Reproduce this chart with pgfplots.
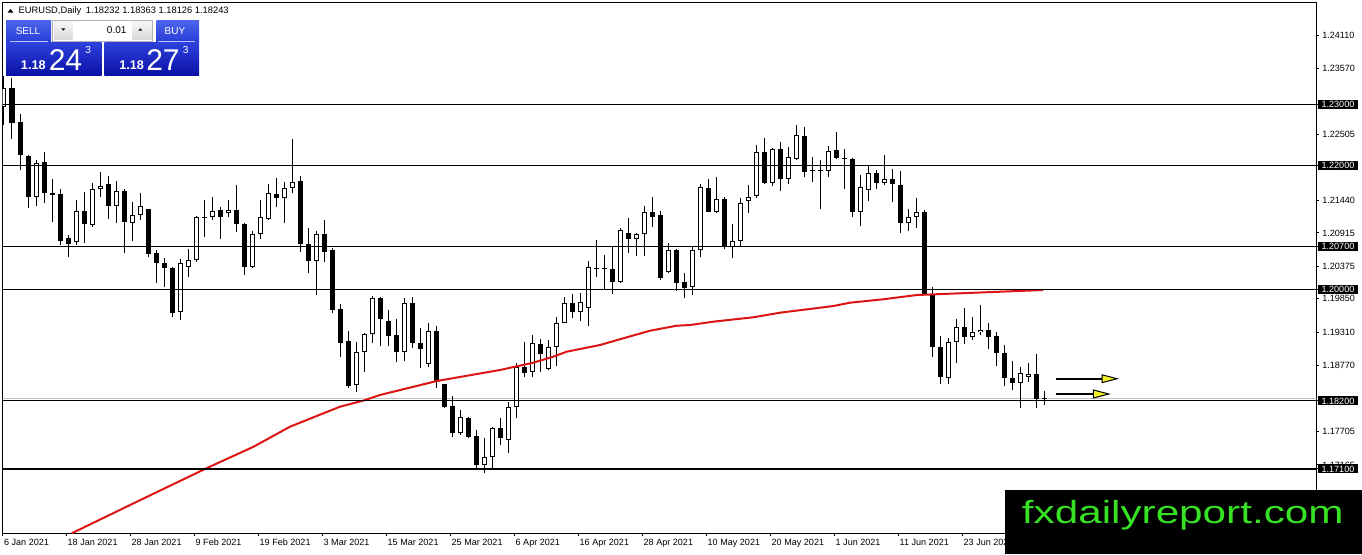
\documentclass[border=0pt]{standalone}
\usepackage{fontspec}
\setmainfont{Liberation Sans}
\usepackage{pgfplots}
\pgfplotsset{compat=1.18}
\usepackage{pgfplotstable}
\usetikzlibrary{arrows.meta}

\definecolor{mared}{RGB}{220,20,20}
\definecolor{arrowyellow}{RGB}{240,240,40}
\definecolor{wmgreen}{RGB}{55,225,35}
\definecolor{bidgray}{RGB}{192,192,192}
\definecolor{selltop}{RGB}{75,100,235}
\definecolor{sellbot}{RGB}{40,60,215}
\definecolor{bigtop}{RGB}{45,65,220}
\definecolor{bigbot}{RGB}{10,15,165}

% bullish candles: index, open, high, low, close
\pgfplotstableread{
i O H L C
0 1.22956 1.23453 1.22661 1.23254
4 1.21501 1.22095 1.21356 1.22051
9 1.20764 1.21448 1.20721 1.21270
11 1.21044 1.21728 1.21016 1.21626
12 1.21621 1.21896 1.21501 1.21674
14 1.21356 1.21755 1.21071 1.21589
16 1.21081 1.21411 1.20790 1.21201
17 1.21201 1.21566 1.21125 1.21351
22 1.19633 1.20489 1.19508 1.20434
23 1.20370 1.20661 1.20198 1.20478
24 1.20478 1.21189 1.20451 1.21178
26 1.21168 1.21501 1.21125 1.21275
28 1.21233 1.21448 1.21168 1.21282
31 1.20370 1.20952 1.20344 1.20894
32 1.20894 1.21448 1.20813 1.21168
33 1.21136 1.21702 1.21125 1.21556
35 1.21476 1.21744 1.21081 1.21637
36 1.21637 1.22434 1.21556 1.21744
39 1.20467 1.20947 1.19912 1.20894
44 1.18453 1.19148 1.18349 1.18991
45 1.18986 1.19303 1.18672 1.19282
46 1.19277 1.19901 1.19141 1.19864
50 1.18996 1.19859 1.18845 1.19778
53 1.18792 1.19455 1.18743 1.19325
57 1.17677 1.18053 1.17649 1.17935
60 1.17164 1.17605 1.17030 1.17289
61 1.17289 1.17783 1.17111 1.17757
63 1.17568 1.18187 1.17363 1.18107
64 1.18107 1.18808 1.17919 1.18753
66 1.18663 1.19266 1.18592 1.19132
68 1.18711 1.19185 1.18700 1.19077
69 1.19077 1.19562 1.18765 1.19465
70 1.19465 1.19885 1.19455 1.19788
72 1.19642 1.19940 1.19497 1.19804
73 1.19707 1.20467 1.19416 1.20360
77 1.20127 1.20991 1.20111 1.20963
79 1.20822 1.20910 1.20548 1.20894
80 1.20894 1.21351 1.20548 1.21249
83 1.20289 1.20748 1.20263 1.20640
86 1.20037 1.20704 1.19912 1.20640
87 1.20635 1.21707 1.20522 1.21658
89 1.21259 1.21815 1.21233 1.21459
91 1.20693 1.21060 1.20506 1.20790
92 1.20790 1.21476 1.20693 1.21395
93 1.21437 1.21691 1.21243 1.21501
94 1.21513 1.22337 1.21476 1.22219
96 1.21728 1.22284 1.21674 1.22268
98 1.21788 1.22300 1.21707 1.22138
99 1.22111 1.22661 1.22095 1.22494
103 1.21922 1.22321 1.21825 1.22245
107 1.21259 1.21852 1.21033 1.21653
108 1.21610 1.22003 1.21437 1.21880
110 1.21718 1.22176 1.21691 1.21783
113 1.21071 1.21298 1.20947 1.21178
114 1.21178 1.21476 1.21000 1.21249
118 1.18566 1.19212 1.18469 1.19157
119 1.19157 1.19524 1.18808 1.19390
121 1.19238 1.19552 1.19185 1.19309
122 1.19309 1.19751 1.19266 1.19350
127 1.18495 1.18743 1.18081 1.18647
128 1.18585 1.18808 1.18511 1.18630
}\bull

% bearish candles: index, open, high, low, close
\pgfplotstableread{
i O H L C
1 1.23254 1.23425 1.22434 1.22698
2 1.22709 1.22838 1.21933 1.22171
3 1.22159 1.22170 1.21314 1.21501
5 1.22058 1.22224 1.21395 1.21556
6 1.21566 1.21788 1.21097 1.21524
7 1.21545 1.21631 1.20721 1.20790
8 1.20839 1.20882 1.20531 1.20742
10 1.21270 1.21582 1.20758 1.21055
13 1.21707 1.21836 1.21141 1.21356
15 1.21594 1.21631 1.20586 1.21097
18 1.21303 1.21310 1.20531 1.20575
19 1.20586 1.20640 1.20111 1.20425
20 1.20434 1.20506 1.20037 1.20344
21 1.20354 1.20370 1.19562 1.19626
25 1.21178 1.21448 1.20855 1.21162
27 1.21286 1.21340 1.20813 1.21178
29 1.21282 1.21691 1.20936 1.21055
30 1.21060 1.21081 1.20236 1.20370
34 1.21545 1.21799 1.21340 1.21476
37 1.21755 1.21836 1.20612 1.20732
38 1.20732 1.20991 1.20263 1.20467
40 1.20894 1.21125 1.20451 1.20612
41 1.20640 1.20672 1.19621 1.19670
42 1.19686 1.19767 1.18915 1.19132
43 1.19169 1.19330 1.18414 1.18441
47 1.19864 1.19885 1.19093 1.19519
48 1.19492 1.19670 1.19093 1.19254
49 1.19266 1.19524 1.18824 1.18996
51 1.19778 1.19885 1.19051 1.19132
52 1.19141 1.19374 1.18727 1.19034
54 1.19325 1.19411 1.18414 1.18511
55 1.18473 1.18480 1.18090 1.18107
56 1.18118 1.18280 1.17612 1.17677
58 1.17929 1.17935 1.17596 1.17622
59 1.17633 1.17730 1.17095 1.17164
62 1.17757 1.17919 1.17487 1.17605
65 1.18743 1.19157 1.18592 1.18656
67 1.19115 1.19196 1.18663 1.18954
71 1.19788 1.19929 1.19536 1.19642
74 1.20354 1.20801 1.20208 1.20338
75 1.20344 1.20559 1.19993 1.20328
76 1.20328 1.20693 1.19924 1.20127
78 1.20910 1.21152 1.20596 1.20822
81 1.21259 1.21492 1.21016 1.21178
82 1.21206 1.21270 1.20155 1.20182
84 1.20640 1.20650 1.19982 1.20111
85 1.20118 1.20263 1.19859 1.20030
88 1.21637 1.21788 1.21250 1.21259
90 1.21459 1.21492 1.20651 1.20693
95 1.22219 1.22446 1.21707 1.21728
97 1.22268 1.22391 1.21598 1.21788
100 1.22483 1.22623 1.21815 1.21906
101 1.21928 1.22138 1.21744 1.21912
102 1.21928 1.22095 1.21303 1.21912
104 1.22256 1.22542 1.22106 1.22122
105 1.22122 1.22268 1.21626 1.22106
106 1.22106 1.22132 1.21178 1.21259
109 1.21885 1.21933 1.21631 1.21718
111 1.21783 1.21944 1.21421 1.21702
112 1.21691 1.21922 1.20919 1.21071
115 1.21249 1.21286 1.19920 1.19929
116 1.19929 1.20047 1.18915 1.19067
117 1.19067 1.19250 1.18469 1.18592
120 1.19390 1.19697 1.19120 1.19238
123 1.19342 1.19455 1.19034 1.19238
124 1.19250 1.19309 1.18769 1.18970
125 1.18970 1.19104 1.18446 1.18566
126 1.18566 1.18845 1.18377 1.18495
129 1.18630 1.18954 1.18081 1.18226
130 1.18248 1.18363 1.18126 1.18232
}\bear

\begin{document}
\begin{tikzpicture}
\path[use as bounding box, fill=white] (0,0) rectangle (1021.5pt,415.5pt);
\begin{axis}[
  at={(2.025pt,15.525pt)}, anchor=south west,
  scale only axis, width=985.5pt, height=397.95pt,
  xmin=-0.1625, xmax=164.0875,
  ymin=1.160599, ymax=1.246376,
  axis line style={line width=0.75pt, black},
  tick align=outside,
  major tick length=2pt,
  tick style={black, line width=0.75pt},
  xtick pos=left, ytick pos=right, yticklabel pos=right,
  xtick={-0.15,7.8,15.8,23.8,31.8,39.8,47.8,55.8,63.8,71.8,79.8,87.8,95.8,103.8,111.8,119.8,127.8},
  xticklabels={6 Jan 2021,18 Jan 2021,28 Jan 2021,9 Feb 2021,19 Feb 2021,3 Mar 2021,15 Mar 2021,25 Mar 2021,6 Apr 2021,16 Apr 2021,28 Apr 2021,10 May 2021,20 May 2021,1 Jun 2021,11 Jun 2021,23 Jun 2021,5 Jul 2021},
  ytick={1.17165,1.17705,1.18770,1.19310,1.19850,1.20375,1.20915,1.21440,1.22505,1.23570,1.24110},
  extra y ticks={1.23,1.22,1.207,1.20,1.182,1.171},
  scaled y ticks=false,
  /pgf/number format/fixed,
  /pgf/number format/fixed zerofill,
  /pgf/number format/precision=5,
  /pgf/number format/assume math mode=true,
  ticklabel style={font=\fontsize{6.8}{8}\selectfont},
  xticklabel style={anchor=north west, inner sep=0pt, xshift=0.75pt, yshift=-1.9pt},
  yticklabel style={anchor=west, inner sep=0pt, xshift=1.95pt},
  extra y tick style={yticklabel style={fill=black, text=white, inner xsep=2.7pt, inner ysep=0pt, minimum height=6.75pt, xshift=-3.2pt}},
]
% bid line
\addplot[bidgray, line width=0.75pt, mark=none, forget plot] coordinates {(-1,1.18243) (170,1.18243)};
% wicks
\addplot[black, line width=0.75pt, mark=none, quiver={u=0, v=\thisrow{H}-\thisrow{L}}] table[x=i, y=L] {\bull};
\addplot[black, line width=0.75pt, mark=none, quiver={u=0, v=\thisrow{H}-\thisrow{L}}] table[x=i, y=L] {\bear};
% bodies
\addplot[black, line width=3.75pt, mark=none, quiver={u=0, v=\thisrow{C}-\thisrow{O}}] table[x=i, y=O] {\bear};
\addplot[black, line width=3.75pt, mark=none, quiver={u=0, v=\thisrow{C}-\thisrow{O}}] table[x=i, y=O] {\bull};
\addplot[white, line width=2.25pt, mark=none, shorten <=0.75pt, shorten >=0.75pt, quiver={u=0, v=\thisrow{C}-\thisrow{O}}] table[x=i, y=O] {\bull};
% moving average
\addplot[mared, line width=1.5pt, mark=none] coordinates {
(8.46,1.16060) (16.2,1.16545) (25.3,1.17111) (31.2,1.17460) (35.75,1.17783)
(42,1.18107) (44.9,1.18204) (47,1.18296) (54.1,1.18522) (62,1.18700)
(66.16,1.18818) (68.66,1.18915) (70.34,1.18996) (74.5,1.19104) (77.41,1.19212)
(80.75,1.19335) (84.09,1.19416) (85.75,1.19427) (88.66,1.19481) (93.66,1.19552)
(97,1.19626) (103.66,1.19734) (105.75,1.19788) (109.9,1.19843) (114.1,1.19912)
(129.9,1.19993)};
% horizontal levels
\addplot[black, line width=0.75pt, mark=none] coordinates {(-1,1.23) (170,1.23)};
\addplot[black, line width=0.75pt, mark=none] coordinates {(-1,1.22) (170,1.22)};
\addplot[black, line width=0.75pt, mark=none] coordinates {(-1,1.207) (170,1.207)};
\addplot[black, line width=0.75pt, mark=none] coordinates {(-1,1.20) (170,1.20)};
\addplot[black, line width=0.75pt, mark=none] coordinates {(-1,1.182) (170,1.182)};
\addplot[black, line width=1.4pt, mark=none] coordinates {(-1,1.171) (170,1.171)};
% arrows
\addplot[black, line width=1.4pt, mark=none, -{Triangle[length=13.2pt, width=6.6pt, fill=arrowyellow, line width=0.75pt]}] coordinates {(131.5,1.18559) (139.4,1.18559)};
\addplot[black, line width=1.4pt, mark=none, -{Triangle[length=13.5pt, width=6.8pt, fill=arrowyellow, line width=0.75pt]}] coordinates {(131.5,1.18312) (138.35,1.18312)};
\end{axis}

\begin{scope}[x=0.75pt, y=-0.75pt, shift={(0pt,415.5pt)}]
% header
\fill[black] (7.5,12.7) -- (13.5,12.7) -- (10.5,9) -- cycle;
\node[anchor=base west, inner sep=0pt, font=\fontsize{7}{8}\selectfont] at (18.3,14) {EURUSD,Daily\hspace{3.5pt}1.18232 1.18363 1.18126 1.18243};
% SELL
\shade[top color=selltop, bottom color=sellbot] (6,20.7) rectangle (51,42.3);
\draw[white!60!selltop, line width=0.5pt] (9.5,41.3) -- (47.7,41.3);
\node[text=white, font=\fontsize{7.5}{8}\selectfont] at (28,30.7) {SELL};
\shade[top color=bigtop, bottom color=bigbot] (6,42.3) rectangle (101.7,75.7);
\node[text=white, font=\bfseries\fontsize{9.5}{10}\selectfont, anchor=base west, inner sep=0pt] at (20.7,69.5) {1.18};
\node[text=white, font=\fontsize{22.5}{24}\selectfont, anchor=base west, inner sep=0pt] at (48.5,70.7) {24};
\node[text=white, font=\fontsize{7.6}{8}\selectfont, anchor=base west, inner sep=0pt] at (85,54) {3};
% lot box
\fill[white] (51.7,20) rectangle (153.3,41.7);
\draw[gray!60, line width=0.75pt] (52.2,20.5) rectangle (152.8,41.2);
\shade[top color=gray!8, bottom color=gray!30] (54.3,21.7) rectangle (72.7,40);
\shade[top color=gray!8, bottom color=gray!30] (132.3,21.7) rectangle (151.7,40);
\fill[black] (61.3,28.3) -- (65.3,28.3) -- (63.3,30.7) -- cycle;
\fill[black] (138.3,30.7) -- (142.3,30.7) -- (140.3,28.3) -- cycle;
\node[anchor=base east, inner sep=0pt, font=\fontsize{7.5}{8}\selectfont] at (126.7,34) {0.01};
% BUY
\shade[top color=selltop, bottom color=sellbot] (156.7,20.7) rectangle (199,42.3);
\draw[white!60!selltop, line width=0.5pt] (157.5,41.3) -- (195,41.3);
\node[text=white, font=\fontsize{7.5}{8}\selectfont] at (175,30.7) {BUY};
\shade[top color=bigtop, bottom color=bigbot] (104.3,42.3) rectangle (199,75.7);
\node[text=white, font=\bfseries\fontsize{9.5}{10}\selectfont, anchor=base west, inner sep=0pt] at (119,69.5) {1.18};
\node[text=white, font=\fontsize{22.5}{24}\selectfont, anchor=base west, inner sep=0pt] at (146,70.7) {27};
\node[text=white, font=\fontsize{7.6}{8}\selectfont, anchor=base west, inner sep=0pt] at (182.7,54) {3};
% watermark
\fill[black] (1005,490) rectangle (1362,554);
\node[anchor=base west, inner sep=0pt, text=wmgreen] at (1021.7,523.3) {\scalebox{1.32}[1]{\fontsize{24}{24}\selectfont fxdailyreport.com}};
\end{scope}
\end{tikzpicture}
\end{document}
